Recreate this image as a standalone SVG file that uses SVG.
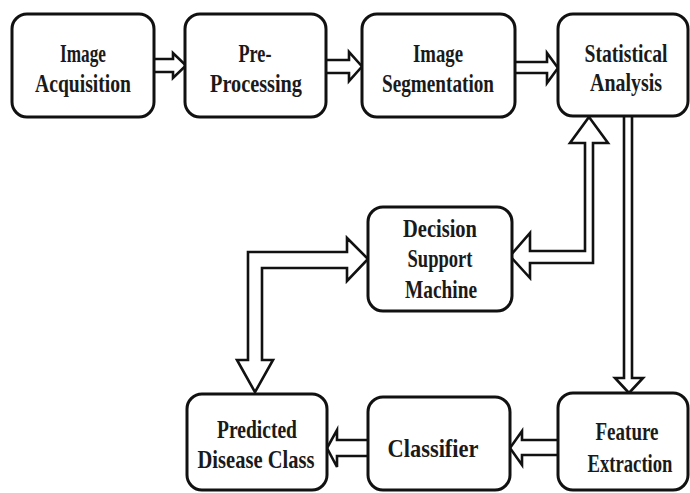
<svg xmlns="http://www.w3.org/2000/svg" width="690" height="493" viewBox="0 0 690 493">
<style>
.box{fill:#fff;stroke:#111;stroke-width:3}
.arr{fill:#fff;stroke:#111;stroke-width:2.6;stroke-linejoin:miter}
text{font-family:"Liberation Serif","Times New Roman",serif;font-weight:bold;font-size:26px;fill:#1a1a1a;text-anchor:middle}
</style>
<rect width="690" height="493" fill="#fff"/>
<g id="connectors">
<path class="arr" d="M154,59 L173,59 L173,53 L186,65.5 L173,78 L173,72 L154,72"/>
<path class="arr" d="M326,60 L349,60 L349,52 L362,66.5 L349,81 L349,73 L326,73"/>
<path class="arr" d="M515,62 L547,62 L547,53 L558,68 L547,83 L547,73 L515,73"/>
<path class="arr" d="M589,117 L608,143 L593,143 L593,263 L530,263 L530,278 L510,256 L530,233 L530,251 L585,251 L585,143 L570,143 Z"/>
<path class="arr" d="M368,259 L347,238 L347,252 L248,252 L248,360 L237,360 L255,392 L273,360 L262,360 L262,268 L347,268 L347,281 Z"/>
<path class="arr" d="M624,116 L624,378 L615,378 L629,393 L643,378 L632,378 L632,116"/>
<path class="arr" d="M558,440 L522,440 L522,431 L510,448 L522,465 L522,455 L558,455"/>
<path class="arr" d="M368,440 L337,440 L337,430 L327,448 L337,467 L337,456 L368,456"/>
</g>
<g id="n1"><rect class="box" x="12" y="14" width="142" height="103" rx="15"/>
<text x="83" y="62" textLength="46" lengthAdjust="spacingAndGlyphs">Image</text>
<text x="83" y="92" textLength="96" lengthAdjust="spacingAndGlyphs">Acquisition</text></g>
<g id="n2"><rect class="box" x="185" y="14" width="141" height="103" rx="15"/>
<text x="255" y="62" textLength="33" lengthAdjust="spacingAndGlyphs">Pre-</text>
<text x="256" y="92" textLength="92" lengthAdjust="spacingAndGlyphs">Processing</text></g>
<g id="n3"><rect class="box" x="362" y="14" width="153" height="103" rx="15"/>
<text x="438" y="62" textLength="50" lengthAdjust="spacingAndGlyphs">Image</text>
<text x="438" y="92" textLength="112" lengthAdjust="spacingAndGlyphs">Segmentation</text></g>
<g id="n4"><rect class="box" x="558" y="14" width="130" height="102" rx="15"/>
<text transform="translate(626,62) scale(0.756,1)">Statistical</text>
<text x="626" y="91" textLength="72" lengthAdjust="spacingAndGlyphs">Analysis</text></g>
<g id="n5"><rect class="box" x="368" y="207" width="144" height="104" rx="15"/>
<text x="440" y="237" textLength="74" lengthAdjust="spacingAndGlyphs">Decision</text>
<text x="440" y="267" textLength="65" lengthAdjust="spacingAndGlyphs">Support</text>
<text x="441" y="298" textLength="72" lengthAdjust="spacingAndGlyphs">Machine</text></g>
<g id="n6"><rect class="box" x="187" y="394" width="140" height="96" rx="15"/>
<text x="257" y="438" textLength="80" lengthAdjust="spacingAndGlyphs">Predicted</text>
<text x="256" y="468" textLength="117" lengthAdjust="spacingAndGlyphs">Disease Class</text></g>
<g id="n7"><rect class="box" x="368" y="397" width="142" height="93" rx="15"/>
<text x="433" y="457" textLength="91" lengthAdjust="spacingAndGlyphs">Classifier</text></g>
<g id="n8"><rect class="box" x="558" y="393" width="130" height="97" rx="15"/>
<text x="627" y="440" textLength="63" lengthAdjust="spacingAndGlyphs">Feature</text>
<text transform="translate(630,472) scale(0.718,1)">Extraction</text></g>
</svg>
